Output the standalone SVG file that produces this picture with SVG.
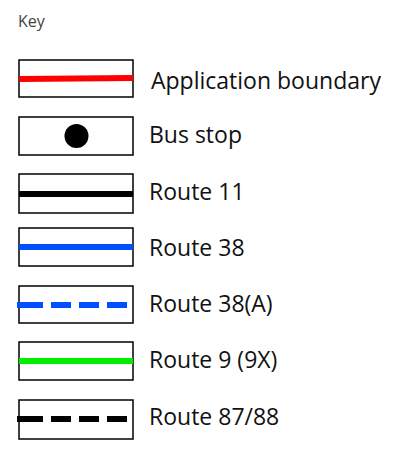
<svg xmlns="http://www.w3.org/2000/svg" width="413" height="450" viewBox="0 0 413 450">
  <style>
    .box { fill: #ffffff; stroke: #000000; stroke-width: 1.5; }
    .lbl { font-family: "Open Sans", "Noto Sans", sans-serif; font-size: 23px; fill: #111111; }
    .title { font-family: "Open Sans", "Noto Sans", sans-serif; font-size: 16px; fill: #444444; }
    .ln { fill: none; stroke-width: 6; }
    .dash { stroke-dasharray: 26 8 20 8 20 8 20 8; }
  </style>
  <rect width="413" height="450" fill="#ffffff"/>
  <text class="title" x="18" y="27">Key</text>

  <g id="application-boundary">
    <rect class="box" x="19" y="60" width="114" height="37"/>
    <line class="ln" x1="19" y1="79" x2="133" y2="78" stroke="#ff0000" stroke-width="4.5"/>
    <text class="lbl" x="151" y="89">Application boundary</text>
  </g>

  <g id="bus-stop">
    <rect class="box" x="19" y="117" width="114" height="38"/>
    <circle cx="76.5" cy="136" r="12" fill="#000000"/>
    <text class="lbl" x="149" y="143">Bus stop</text>
  </g>

  <g id="route-11">
    <rect class="box" x="19" y="174" width="114" height="39"/>
    <line class="ln" x1="19" y1="194" x2="133" y2="194" stroke="#000000" stroke-width="7"/>
    <text class="lbl" x="149" y="200">Route 11</text>
  </g>

  <g id="route-38">
    <rect class="box" x="19" y="228" width="114" height="38"/>
    <line class="ln" x1="19" y1="247" x2="133" y2="247" stroke="#0050ff"/>
    <text class="lbl" x="149" y="256">Route 38</text>
  </g>

  <g id="route-38a">
    <rect class="box" x="19" y="286" width="114" height="37"/>
    <line class="ln dash" x1="17" y1="305" x2="133" y2="305" stroke="#0050ff" stroke-width="7"/>
    <text class="lbl" x="149" y="312">Route 38(A)</text>
  </g>

  <g id="route-9">
    <rect class="box" x="19" y="342" width="114" height="38"/>
    <line class="ln" x1="19" y1="361" x2="133" y2="361" stroke="#00ee00"/>
    <text class="lbl" x="149" y="368">Route 9 (9X)</text>
  </g>

  <g id="route-87-88">
    <rect class="box" x="19" y="400" width="114" height="39"/>
    <line class="ln dash" x1="17" y1="419" x2="133" y2="419" stroke="#000000" stroke-width="7"/>
    <text class="lbl" x="149" y="425">Route 87/88</text>
  </g>
</svg>
